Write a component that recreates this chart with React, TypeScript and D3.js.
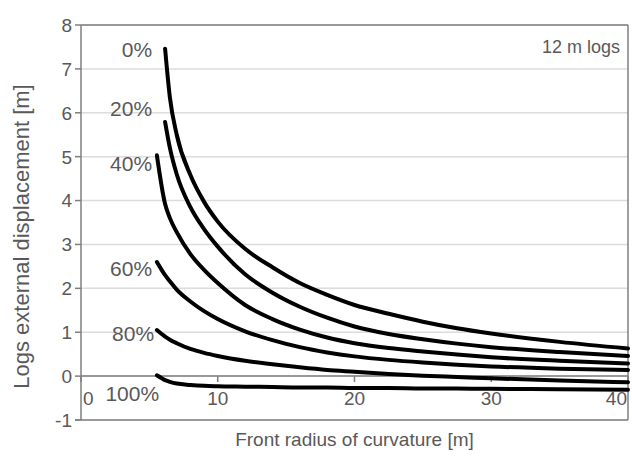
import React from "react";
import * as d3 from "d3";

// front radius of curvature [m]
const radius = [5.55, 6.15, 6.5, 7, 8, 9, 10, 12, 14, 16, 18, 20, 22.5, 25, 27.5, 30, 35, 40];

// logs external displacement [m] per load case (null = curve not drawn there)
const p0 = [null, 7.46, 6.35, 5.5, 4.58, 3.97, 3.52, 2.9, 2.48, 2.12, 1.85, 1.62, 1.42, 1.24, 1.09, 0.97, 0.78, 0.63];
const p20 = [null, 5.79, 5.2, 4.6, 3.85, 3.35, 2.95, 2.32, 1.9, 1.58, 1.33, 1.13, 0.96, 0.84, 0.74, 0.66, 0.55, 0.46];
const p40 = [5.03, 3.92, 3.6, 3.28, 2.78, 2.42, 2.12, 1.62, 1.3, 1.06, 0.88, 0.75, 0.64, 0.56, 0.49, 0.43, 0.35, 0.29];
const p60 = [2.6, 2.3, 2.16, 1.97, 1.7, 1.48, 1.3, 1.02, 0.82, 0.66, 0.54, 0.45, 0.37, 0.31, 0.26, 0.22, 0.17, 0.14];
const p80 = [1.05, 0.9, 0.83, 0.75, 0.62, 0.53, 0.46, 0.35, 0.27, 0.2, 0.14, 0.1, 0.05, 0.01, -0.02, -0.05, -0.1, -0.14];
const p100 = [0.02, -0.09, -0.13, -0.17, -0.2, -0.22, -0.23, -0.24, -0.25, -0.26, -0.26, -0.27, -0.27, -0.28, -0.28, -0.29, -0.3, -0.31];

const seriesNames = ["0%", "20%", "40%", "60%", "80%", "100%"];
const seriesValues = [p0, p20, p40, p60, p80, p100];
// where each series label sits (y in data units)
const labelAt = [7.45, 6.1, 4.85, 2.45, 0.97, -0.4];

const xTicks = [0, 10, 20, 30, 40];
const yTicks = [-1, 0, 1, 2, 3, 4, 5, 6, 7, 8];

const width = 632;
const height = 459;
const font = "'Liberation Sans', Arial, sans-serif";
const textColor = "#595959";
const axisColor = "#7f7f7f";

const App = () => {
  const x = d3.scaleLinear().domain([0, 40]).range([81, 628]);
  const y = d3.scaleLinear().domain([-1, 8]).range([420, 25]);

  const line = d3
    .line<[number, number | null]>()
    .defined((d) => d[1] !== null)
    .x((d) => x(d[0]))
    .y((d) => y(d[1] as number))
    .curve(d3.curveMonotoneX);

  return (
    <svg
      width={width}
      height={height}
      style={{ position: "absolute", left: 0, top: 0, background: "#fff" }}
      fontFamily={font}
    >
      {/* gridlines */}
      {yTicks.map((t) => (
        <line key={"g" + t} x1={x(0)} x2={x(40)} y1={y(t)} y2={y(t)} stroke="#dcdcdc" strokeWidth={1.5} />
      ))}
      {/* frame */}
      <line x1={x(0)} x2={x(40)} y1={y(8)} y2={y(8)} stroke={axisColor} strokeWidth={1.5} />
      <line x1={x(40)} x2={x(40)} y1={y(8)} y2={y(-1)} stroke={axisColor} strokeWidth={1.5} />
      <line x1={x(0) - 6} x2={x(40)} y1={y(-1)} y2={y(-1)} stroke={axisColor} strokeWidth={1.5} />
      {/* y axis */}
      <line x1={x(0)} x2={x(0)} y1={y(8)} y2={y(-1)} stroke={axisColor} strokeWidth={1.5} />
      {yTicks.map((t) => (
        <g key={"y" + t}>
          <line x1={x(0) - 6} x2={x(0)} y1={y(t)} y2={y(t)} stroke={axisColor} strokeWidth={1.5} />
          <text x={x(0) - 9} y={y(t)} dy="0.36em" textAnchor="end" fontSize={19} fill={textColor}>
            {t}
          </text>
        </g>
      ))}
      {/* x axis crossing at 0 */}
      <line x1={x(0)} x2={x(40)} y1={y(0)} y2={y(0)} stroke={axisColor} strokeWidth={1.5} />
      {xTicks.map((t, i) => (
        <g key={"x" + t}>
          <line x1={x(t)} x2={x(t)} y1={y(0)} y2={y(0) + 6} stroke={axisColor} strokeWidth={1.5} />
          <text
            x={i === 0 ? x(t) + 2 : i === xTicks.length - 1 ? x(t) - 1 : x(t)}
            y={y(-0.5)}
            dy="0.36em"
            textAnchor={i === 0 ? "start" : i === xTicks.length - 1 ? "end" : "middle"}
            fontSize={19}
            fill={textColor}
          >
            {t}
          </text>
        </g>
      ))}
      {/* curves */}
      {seriesValues.map((vals, i) => (
        <path
          key={"s" + i}
          d={line(radius.map((r, j) => [r, vals[j]] as [number, number | null])) || ""}
          fill="none"
          stroke="#000"
          strokeWidth={4}
          strokeLinecap="round"
        />
      ))}
      {/* series labels */}
      {seriesNames.map((name, i) => (
        <text
          key={"l" + i}
          x={x(5.2) + (i === 5 ? 7 : i === 4 ? 2 : 0)}
          y={y(labelAt[i])}
          dy="0.36em"
          textAnchor="end"
          fontSize={21}
          fill={textColor}
        >
          {name}
        </text>
      ))}
      <text x={620} y={53} textAnchor="end" fontSize={18} fill={textColor}>
        12 m logs
      </text>
      {/* axis titles */}
      <text x={(x(0) + x(40)) / 2} y={446} textAnchor="middle" fontSize={19} fill={textColor}>
        Front radius of curvature [m]
      </text>
      <text
        transform={`translate(29, ${(y(8) + y(-1)) / 2 + 14}) rotate(-90)`}
        textAnchor="middle"
        fontSize={22}
        fill={textColor}
      >
        Logs external displacement [m]
      </text>
    </svg>
  );
};

export default App;
